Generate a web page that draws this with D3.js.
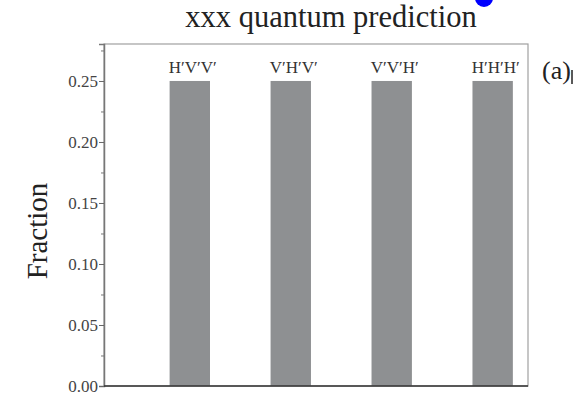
<!DOCTYPE html>
<html><head><meta charset="utf-8">
<script src="https://cdn.jsdelivr.net/npm/d3@7"></script>
<style>body{margin:0;background:#fff}svg{display:block}</style>
</head><body>
<script>
const categories = ["H\u2032V\u2032V\u2032", "V\u2032H\u2032V\u2032", "V\u2032V\u2032H\u2032", "H\u2032H\u2032H\u2032"];
const values = [0.25, 0.25, 0.25, 0.25];
const tickValues = [0, 0.05, 0.10, 0.15, 0.20, 0.25];
const tickLabels = ["0.00", "0.05", "0.10", "0.15", "0.20", "0.25"];
const minorTicks = [0.025, 0.075, 0.125, 0.175, 0.225, 0.275];
const title = "xxx quantum prediction";
const yTitle = "Fraction";
const panel = "(a)";

const W = 580, H = 396;
const m = {left: 104, right: 52, top: 44, bottom: 10};
const svg = d3.select("body").append("svg").attr("width", W).attr("height", H);
const serif = "'Liberation Serif','Times New Roman',serif";

const x = d3.scaleLinear().domain([-0.85, 3.35]).range([m.left, W - m.right]);
const y = d3.scaleLinear().domain([0, 0.2803]).range([H - m.bottom, m.top]);
const bw = x(0.4) - x(0);

// frame (top/right light)
svg.append("rect").attr("x", m.left).attr("y", m.top)
  .attr("width", W - m.right - m.left).attr("height", H - m.bottom - m.top)
  .attr("fill", "none").attr("stroke", "#a0a0a0").attr("stroke-width", 1.2);

// bars
svg.selectAll("rect.bar").data(values).enter().append("rect")
  .attr("class", "bar")
  .attr("x", (d, i) => x(i) - bw / 2)
  .attr("width", bw)
  .attr("y", d => y(d))
  .attr("height", d => y(0) - y(d))
  .attr("fill", "#8e9092");

// bar labels
svg.selectAll("text.cat").data(categories).enter().append("text")
  .attr("x", (d, i) => x(i) + 3)
  .attr("y", y(0.25) - 8)
  .attr("text-anchor", "middle")
  .attr("font-family", serif).attr("font-size", 17).attr("fill", "#333")
  .text(d => d);

// y axis
const yAxis = d3.axisLeft(y).tickValues(tickValues)
  .tickFormat((d, i) => tickLabels[i]).tickSize(5).tickPadding(1);
const gy = svg.append("g").attr("transform", `translate(${m.left},0)`).call(yAxis);
gy.attr("font-family", serif).attr("font-size", 17);
gy.select(".domain").attr("stroke", "#777").attr("stroke-width", 1.5);
gy.selectAll(".tick line").attr("stroke", "#666");
gy.selectAll(".tick text").attr("fill", "#444");
svg.append("g").attr("transform", `translate(${m.left},0)`)
  .call(d3.axisLeft(y).tickValues(minorTicks).tickSize(3).tickFormat(""))
  .call(g => g.select(".domain").remove())
  .selectAll("line").attr("stroke", "#777");

// bottom axis line
svg.append("line").attr("x1", m.left).attr("x2", W - m.right)
  .attr("y1", y(0)).attr("y2", y(0)).attr("stroke", "#333").attr("stroke-width", 1.6);

// title
svg.append("text").attr("x", 331).attr("y", 27).attr("text-anchor", "middle")
  .attr("font-family", serif).attr("font-size", 30.5).attr("fill", "#222").text(title);

// blue dot
svg.append("circle").attr("cx", 484).attr("cy", -2).attr("r", 9).attr("fill", "#0000ff");

// y title
svg.append("text").attr("transform", `translate(47,231) rotate(-90)`)
  .attr("text-anchor", "middle").attr("font-family", serif).attr("font-size", 29)
  .attr("fill", "#222").text(yTitle);

// panel label
svg.append("text").attr("x", 542).attr("y", 79)
  .attr("font-family", serif).attr("font-size", 26).attr("fill", "#222").text(panel);
svg.append("line").attr("x1", 572).attr("x2", 572).attr("y1", 70).attr("y2", 84)
  .attr("stroke", "#222").attr("stroke-width", 1.5);
</script>
</body></html>
